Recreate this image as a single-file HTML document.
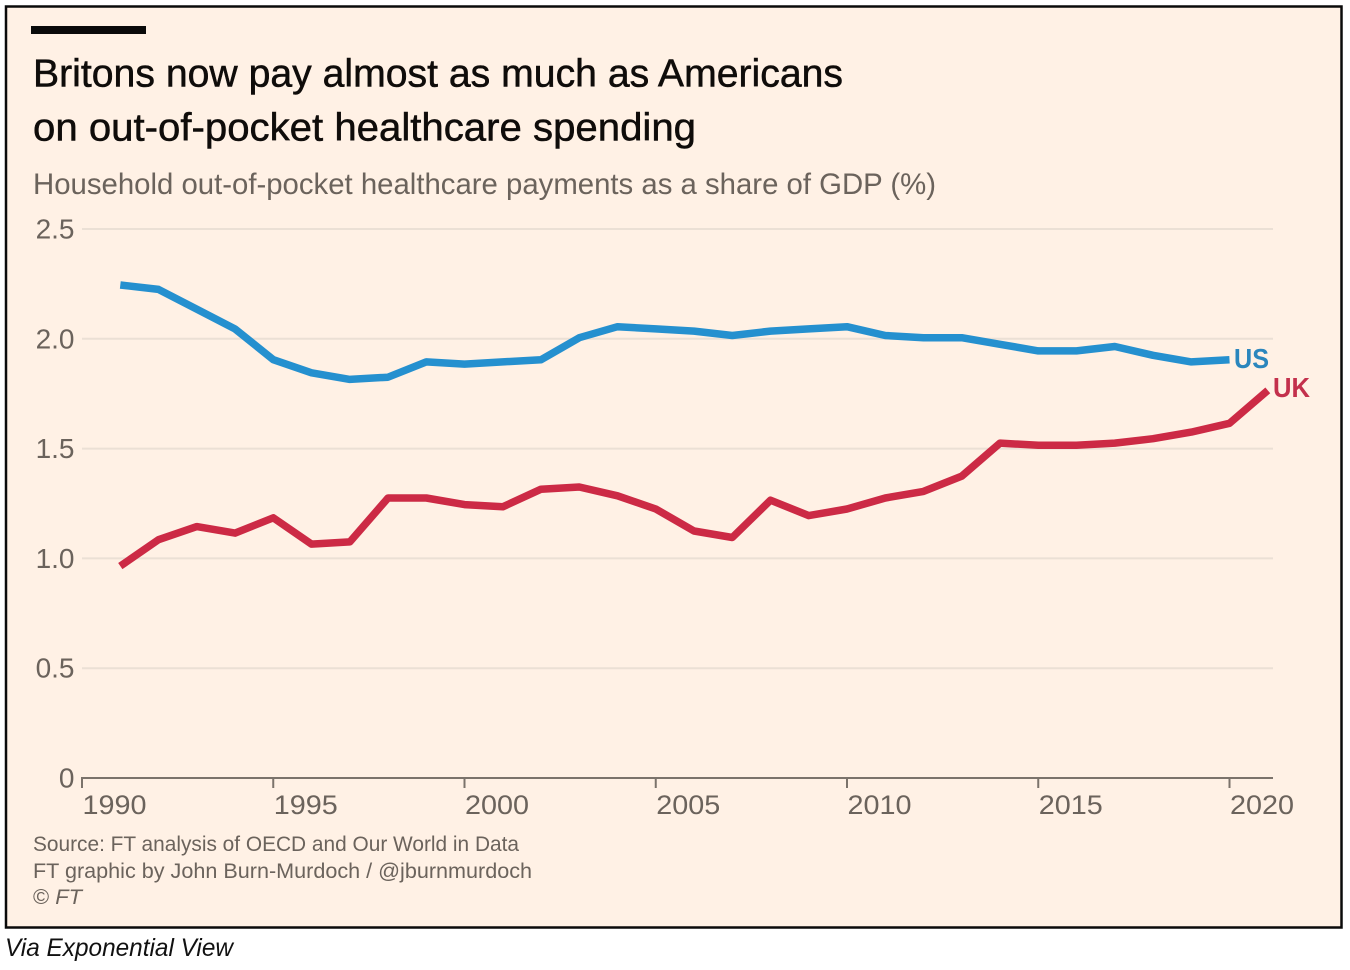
<!DOCTYPE html>
<html lang="en">
<head>
<meta charset="utf-8">
<title>Britons now pay almost as much as Americans</title>
<style>
html,body{margin:0;padding:0;background:#fff;}
svg{display:block;font-family:"Liberation Sans",sans-serif;}
</style>
</head>
<body>
<svg id="chart" xmlns="http://www.w3.org/2000/svg" width="1350" height="970" viewBox="0 0 1350 970">
  <rect x="6" y="6.5" width="1335.5" height="921" fill="#fff1e5" stroke="#0a0a0a" stroke-width="2.5"/>
  <rect x="31" y="26" width="115" height="8" fill="#0a0a0a"/>
  <text x="33" y="86.5" font-size="39" fill="#0f0c0a" stroke="#0f0c0a" stroke-width="0.5" textLength="810" lengthAdjust="spacingAndGlyphs">Britons now pay almost as much as Americans</text>
  <text x="33" y="140.5" font-size="39" fill="#0f0c0a" stroke="#0f0c0a" stroke-width="0.5" textLength="663" lengthAdjust="spacingAndGlyphs">on out-of-pocket healthcare spending</text>
  <text x="33" y="194" font-size="30" fill="#6b635c" textLength="903" lengthAdjust="spacingAndGlyphs">Household out-of-pocket healthcare payments as a share of GDP (%)</text>
  <g id="grid"></g>
  <g id="yticks"></g>
  <g id="xaxis"></g>
  <g id="series"></g>
  <text x="1234" y="368" font-size="28" font-weight="bold" fill="#2b86bd" textLength="35" lengthAdjust="spacingAndGlyphs">US</text>
  <text x="1273" y="397" font-size="28" font-weight="bold" fill="#c3304c" textLength="37" lengthAdjust="spacingAndGlyphs">UK</text>
  <text x="33" y="851" font-size="21.5" fill="#6b635c" textLength="486" lengthAdjust="spacingAndGlyphs">Source: FT analysis of OECD and Our World in Data</text>
  <text x="33" y="878" font-size="21.5" fill="#6b635c" textLength="499" lengthAdjust="spacingAndGlyphs">FT graphic by John Burn-Murdoch / @jburnmurdoch</text>
  <text x="33" y="904" font-size="21.5" fill="#6b635c" textLength="49" lengthAdjust="spacingAndGlyphs">© <tspan font-style="italic">FT</tspan></text>
  <text x="5" y="956" font-size="25" font-style="italic" fill="#111" textLength="228" lengthAdjust="spacingAndGlyphs">Via Exponential View</text>
</svg>
<script>
const yTickValues = [0, 0.5, 1.0, 1.5, 2.0, 2.5];
const yTickLabels = ['0', '0.5', '1.0', '1.5', '2.0', '2.5'];
const xTickYears = [1990, 1995, 2000, 2005, 2010, 2015, 2020];
const usYears = [1991,1992,1993,1994,1995,1996,1997,1998,1999,2000,2001,2002,2003,2004,2005,2006,2007,2008,2009,2010,2011,2012,2013,2014,2015,2016,2017,2018,2019,2020];
const usValues = [2.245,2.225,2.135,2.045,1.905,1.845,1.815,1.825,1.895,1.885,1.895,1.905,2.005,2.055,2.045,2.035,2.015,2.035,2.045,2.055,2.015,2.005,2.005,1.975,1.945,1.945,1.965,1.925,1.895,1.905];
const ukYears = [1991,1992,1993,1994,1995,1996,1997,1998,1999,2000,2001,2002,2003,2004,2005,2006,2007,2008,2009,2010,2011,2012,2013,2014,2015,2016,2017,2018,2019,2020,2021];
const ukValues = [0.965,1.085,1.145,1.115,1.185,1.065,1.075,1.275,1.275,1.245,1.235,1.315,1.325,1.285,1.225,1.125,1.095,1.265,1.195,1.225,1.275,1.305,1.375,1.525,1.515,1.515,1.525,1.545,1.575,1.615,1.765];

const NS = 'http://www.w3.org/2000/svg';
function xScale(year) { return 82 + (year - 1990) * (1229.5 - 82) / 30; }
function yScale(value) { return 778 - value * (778 - 229) / 2.5; }
function make(tag, attrs, parent) {
  const el = document.createElementNS(NS, tag);
  for (const k in attrs) el.setAttribute(k, attrs[k]);
  parent.appendChild(el);
  return el;
}
const grid = document.getElementById('grid');
const yticks = document.getElementById('yticks');
const xaxis = document.getElementById('xaxis');
const series = document.getElementById('series');

yTickValues.forEach(function (v, i) {
  if (v !== 0) {
    const line = make('line', {x1: 82, x2: 1273, y1: yScale(v), y2: yScale(v), stroke: '#ebe0d5', 'stroke-width': 2}, grid);
    
    
  }
  const t = make('text', {x: 74.5, y: yScale(v) + 9.5, 'text-anchor': 'end', 'font-size': 28, fill: '#6b635c'}, yticks);
  t.textContent = yTickLabels[i];
  
  
});

const axisLine = make('line', {x1: 81, x2: 1273, y1: 778, y2: 778, stroke: '#7b736b', 'stroke-width': 2}, xaxis);


xTickYears.forEach(function (yr) {
  const tick = make('line', {x1: xScale(yr), x2: xScale(yr), y1: 778, y2: 788, stroke: '#7b736b', 'stroke-width': 2}, xaxis);
  
  
  const t = make('text', {x: xScale(yr) + 0.5, y: 814, 'font-size': 27, fill: '#6b635c', textLength: 64, lengthAdjust: 'spacingAndGlyphs'}, xaxis);
  t.textContent = String(yr);
  
  
});

function pathFor(years, values) {
  return years.map(function (yr, i) {
    return (i ? 'L' : 'M') + xScale(yr).toFixed(1) + ' ' + yScale(values[i]).toFixed(1);
  }).join(' ');
}
const usLine = make('path', {d: pathFor(usYears, usValues), fill: 'none', stroke: '#2590cf', 'stroke-width': 7.5, 'stroke-linejoin': 'round'}, series);


const ukLine = make('path', {d: pathFor(ukYears, ukValues), fill: 'none', stroke: '#cc2a45', 'stroke-width': 7.5, 'stroke-linejoin': 'round'}, series);


</script>
</body>
</html>
